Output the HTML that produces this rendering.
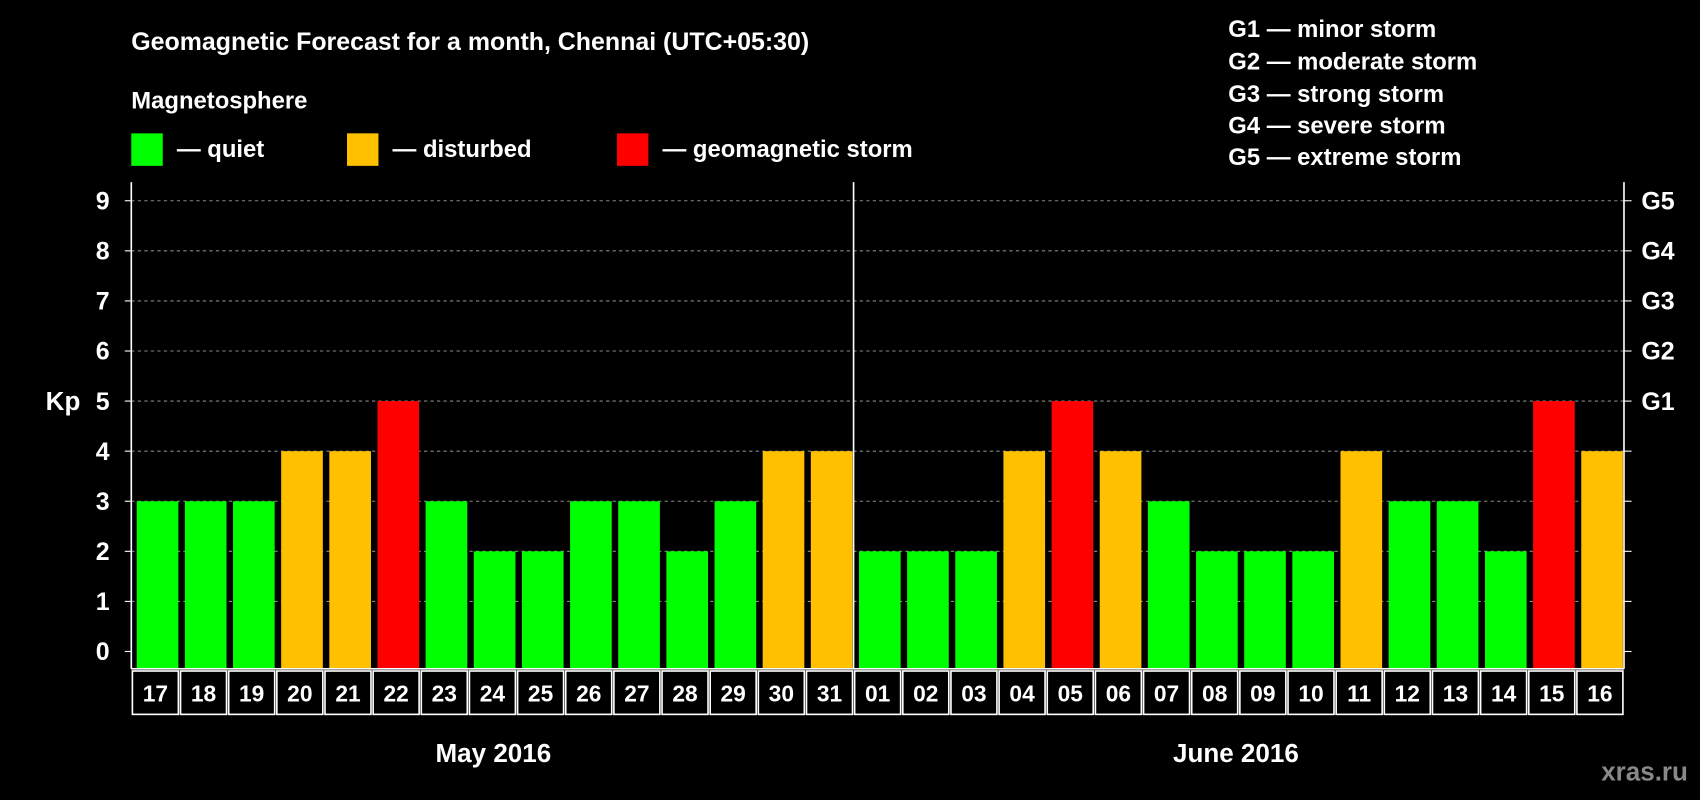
<!DOCTYPE html>
<html><head><meta charset="utf-8"><style>
html,body{margin:0;padding:0;background:#000;width:1700px;height:800px;overflow:hidden}
svg{display:block;font-family:"Liberation Sans",Arial,sans-serif;font-weight:bold}
</style></head><body>
<svg id="chart" width="1700" height="800" viewBox="0 0 1568 738" xmlns="http://www.w3.org/2000/svg">
<rect width="1568" height="738" fill="#000"/>
<text x="121" y="46" fill="#fff" font-size="23">Geomagnetic Forecast for a month, Chennai (UTC+05:30)</text>
<text x="121" y="100" fill="#fff" font-size="22">Magnetosphere</text>
<g><rect x="121" y="123" width="29" height="30" fill="#00ff00"/><text x="163" y="145" fill="#fff" font-size="22">— quiet</text></g>
<g><rect x="320" y="123" width="29" height="30" fill="#ffc000"/><text x="362" y="145" fill="#fff" font-size="22">— disturbed</text></g>
<g><rect x="569" y="123" width="29" height="30" fill="#ff0000"/><text x="611" y="145" fill="#fff" font-size="22">— geomagnetic storm</text></g>
<g fill="#fff" font-size="22">
<text x="1133" y="34">G1 — minor storm</text>
<text x="1133" y="64">G2 — moderate storm</text>
<text x="1133" y="94">G3 — strong storm</text>
<text x="1133" y="123">G4 — severe storm</text>
<text x="1133" y="152">G5 — extreme storm</text>
</g>
<text x="58" y="378" fill="#fff" font-size="24" text-anchor="middle">Kp</text>
<g id="grid"></g><g id="bars"></g><g id="axes"></g><g id="dates"></g>
<text x="455" y="703" fill="#fff" font-size="24" text-anchor="middle">May 2016</text>
<text x="1140" y="703" fill="#fff" font-size="24" text-anchor="middle">June 2016</text>
<text x="1557" y="720" fill="#888" font-size="24" text-anchor="end">xras.ru</text>
</svg>
<script>
const days=["17","18","19","20","21","22","23","24","25","26","27","28","29","30","31","01","02","03","04","05","06","07","08","09","10","11","12","13","14","15","16"];
const kp=[3,3,3,4,4,5,3,2,2,3,3,2,3,4,4,2,2,2,4,5,4,3,2,2,2,4,3,3,2,5,4];
const yTicks=[0,1,2,3,4,5,6,7,8,9];
const gLabels=["","","","","","G1","G2","G3","G4","G5"];
const NS="http://www.w3.org/2000/svg";
const L=121,R=1498,B=617,T=168;
const cw=(R-L)/days.length;
const y=v=>601-v*46.2;
const x=i=>L+i*cw;
function mk(tag,attrs,parent){const e=document.createElementNS(NS,tag);for(const k in attrs)e.setAttribute(k,attrs[k]);document.getElementById(parent).appendChild(e);return e;}
yTicks.forEach((t,i)=>{
 if(t>0){const g=mk('line',{x1:L,x2:R,y1:y(t),y2:y(t),stroke:'#888','stroke-dasharray':'3,3','stroke-width':1},'grid');
 
 }
 const tl=mk('text',{x:101,y:y(t)+8,fill:'#fff','font-size':23,'text-anchor':'end'},'axes');tl.textContent=t;
 
 
 mk('line',{x1:L-6,x2:L,y1:y(t),y2:y(t),stroke:'#fff'},'axes');
 mk('line',{x1:R,x2:R+7,y1:y(t),y2:y(t),stroke:'#fff'},'axes');
 if(gLabels[i]){const gl=mk('text',{x:1514,y:y(t)+8,fill:'#fff','font-size':23},'axes');gl.textContent=gLabels[i];
 
 }
});
kp.forEach((v,i)=>{
 const c=v>=5?'#ff0000':(v>=4?'#ffc000':'#00ff00');
 const b=mk('rect',{x:x(i)+5,y:y(v),width:cw-6,height:B-y(v),fill:c},'bars');
 
 
 const r=mk('rect',{x:x(i)+1,y:619,width:cw-2,height:40,fill:'none',stroke:'#fff','stroke-width':1.5},'dates');
 
 
 const t=mk('text',{x:x(i)+cw/2,y:647,fill:'#fff','font-size':21,'text-anchor':'middle'},'dates');t.textContent=days[i];
 
 
});
mk('line',{x1:L,x2:L,y1:T,y2:B,stroke:'#fff','stroke-width':1.5},'axes');
mk('line',{x1:R,x2:R,y1:T,y2:B,stroke:'#fff','stroke-width':1.5},'axes');
mk('line',{x1:L,x2:R,y1:B,y2:B,stroke:'#fff','stroke-width':1.5},'axes');
const d=mk('line',{x1:x(15),x2:x(15),y1:T,y2:B,stroke:'#fff','stroke-width':1.5},'axes');


</script>
</body></html>
